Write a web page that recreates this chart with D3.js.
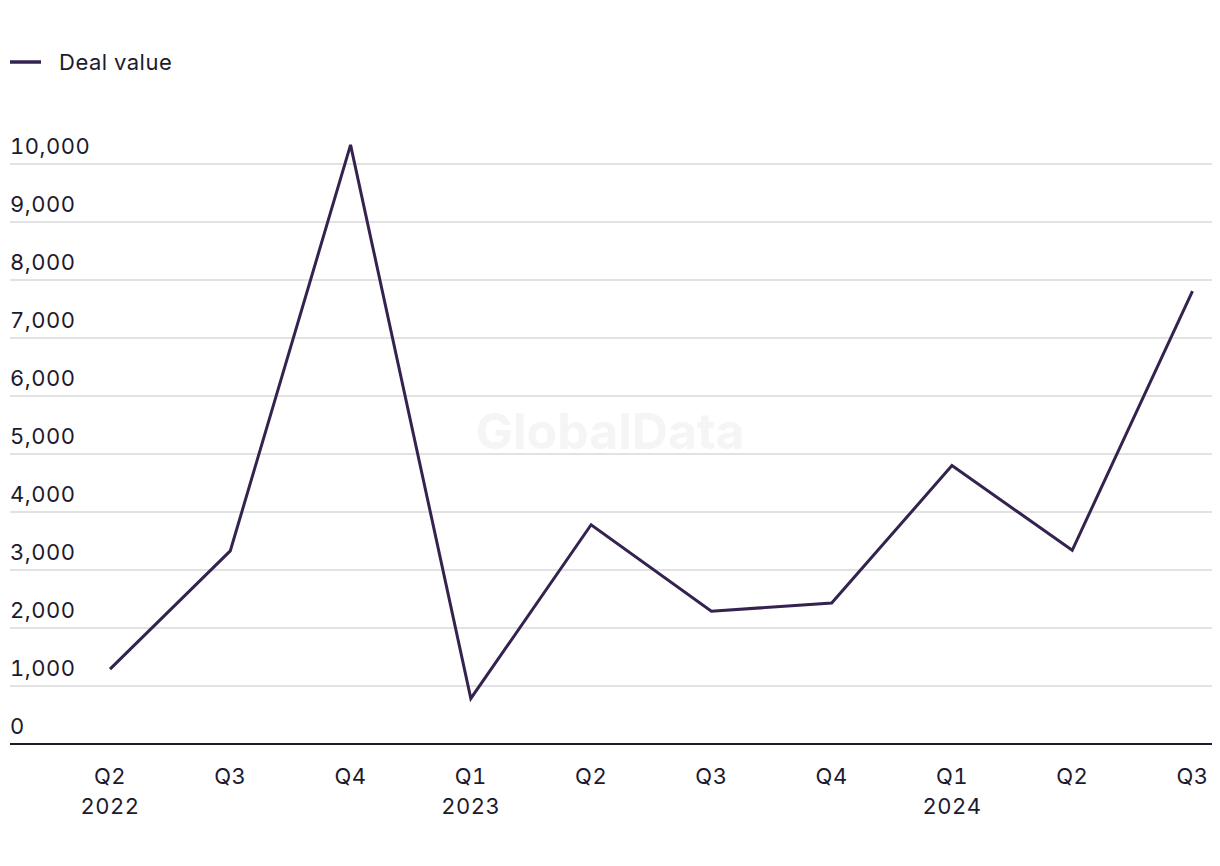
<!DOCTYPE html>
<html>
<head>
<meta charset="utf-8">
<script src="https://cdn.jsdelivr.net/npm/d3@7"></script>
<style>
  html, body { margin: 0; padding: 0; background: #fff; }
  svg { display: block; }
  text { font-family: Inter, "Noto Sans", sans-serif; fill: #1c1a2e; letter-spacing: 0.5px; font-feature-settings: "tnum"; }
</style>
</head>
<body>
<div id="chart"></div>
<script>
const quarters = ["Q2", "Q3", "Q4", "Q1", "Q2", "Q3", "Q4", "Q1", "Q2", "Q3"];
const years = ["2022", "", "", "2023", "", "", "", "2024", "", ""];
const dealValue = [1290, 3330, 10330, 785, 3780, 2290, 2430, 4800, 3340, 7810];
const yTicks = [0, 1000, 2000, 3000, 4000, 5000, 6000, 7000, 8000, 9000, 10000];
const seriesName = "Deal value";

const W = 1220, H = 866;
const svg = d3.select("#chart").append("svg").attr("width", W).attr("height", H);

const idx = d3.range(quarters.length);
const x = d3.scalePoint().domain(idx).range([110, 1192.5]);
const y = d3.scaleLinear().domain([0, 10000]).range([744, 164]);

// watermark
svg.append("text")
  .attr("x", 610).attr("y", 449)
  .attr("text-anchor", "middle")
  .style("font-size", "50px").style("font-weight", "700")
  .style("letter-spacing", "0px")
  .style("fill", "#f5f5f5")
  .text("GlobalData");

// gridlines
svg.append("g").selectAll("line")
  .data(yTicks.filter(d => d > 0))
  .join("line")
  .attr("x1", 10).attr("x2", 1212)
  .attr("y1", d => y(d)).attr("y2", d => y(d))
  .attr("stroke", "#d9d9d9").attr("stroke-width", 1.5);

// y labels
svg.append("g").selectAll("text")
  .data(yTicks)
  .join("text")
  .attr("x", 10).attr("y", d => y(d) - 10.5)
  .style("font-size", "22px")
  .text(d => d3.format(",")(d));

// x axis line
svg.append("line")
  .attr("x1", 10).attr("x2", 1212)
  .attr("y1", y(0)).attr("y2", y(0))
  .attr("stroke", "#1c1a2e").attr("stroke-width", 2);

// x labels
const xl = svg.append("g").selectAll("g").data(idx).join("g")
  .attr("transform", i => `translate(${x(i)},0)`);
xl.append("text").attr("y", 783.5).attr("text-anchor", "middle")
  .style("font-size", "22px").text(i => quarters[i]);
xl.append("text").attr("y", 814).attr("text-anchor", "middle")
  .style("font-size", "22px").text(i => years[i]);

// line
const line = d3.line().x(i => x(i)).y(i => y(dealValue[i]));
svg.append("path")
  .datum(idx)
  .attr("d", line)
  .attr("fill", "none")
  .attr("stroke", "#35234f")
  .attr("stroke-width", 3)
  .attr("stroke-linejoin", "miter");

// legend
svg.append("line")
  .attr("x1", 10).attr("x2", 41).attr("y1", 62).attr("y2", 62)
  .attr("stroke", "#35234f").attr("stroke-width", 3.5);
svg.append("text").attr("x", 59).attr("y", 69.5)
  .style("font-size", "22px").text(seriesName);
</script>
</body>
</html>
